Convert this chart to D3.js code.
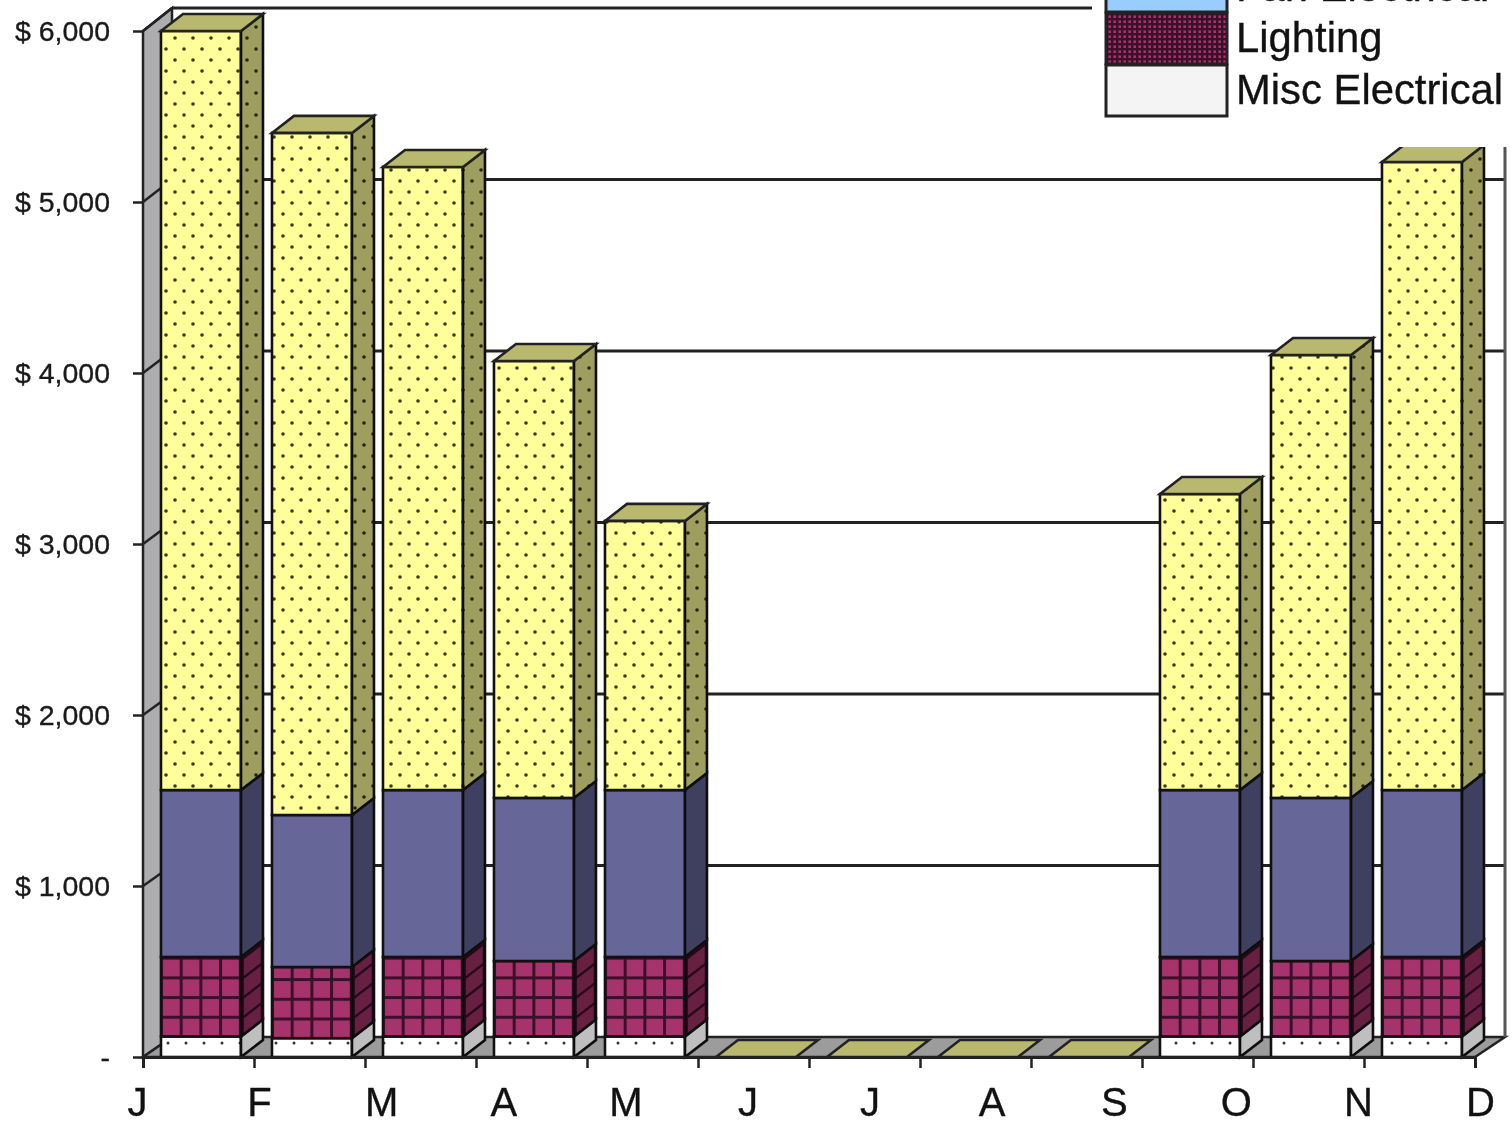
<!DOCTYPE html>
<html>
<head>
<meta charset="utf-8">
<script src="https://cdn.jsdelivr.net/npm/d3@7"></script>
<style>
  html, body { margin: 0; padding: 0; background: #fff; overflow: hidden; }
  svg { display: block; filter: blur(0.7px); }
  text { font-family: "Liberation Sans", Arial, sans-serif; stroke: #1a1a1a; stroke-width: 0.35px; }
</style>
</head>
<body>
<div id="chart"></div>
<script>
// values, $ per month
const months = ["J", "F", "M", "A", "M", "J", "J", "A", "S", "O", "N", "D"];
const miscElectrical = [120, 110, 120, 120, 120, 0, 0, 0, 0, 120, 120, 120];
const lighting = [465, 416, 465, 441, 465, 0, 0, 0, 0, 465, 441, 465];
const blueSeries = [976, 889, 976, 954, 976, 0, 0, 0, 0, 976, 954, 976];
const yellowSeries = [4439, 3989, 3644, 2555, 1574, 0, 0, 0, 0, 1731, 2590, 3673];
const yTicks = [0, 1000, 2000, 3000, 4000, 5000, 6000];
const legendNames = ["Fan Electrical", "Lighting", "Misc Electrical"];

const width = 1512, height = 1129;
const wallDx = 29;               // depth of the chart box
const barDx = 22, barDy = -17;   // depth of a bar

const svg = d3.select("#chart").append("svg")
  .attr("width", width)
  .attr("height", height);
const defs = svg.append("defs");

const x = d3.scaleBand().domain(d3.range(12))
  .range([143, 1475])
  .paddingInner(31 / 111)
  .paddingOuter(31 / 222)
  .align(0.58);
const xEdge = d3.scaleLinear().domain([0, 12]).range([143, 1475]);
const xLabel = d3.scalePoint().domain(d3.range(12)).range([137, 1480]);
const y = d3.scaleLinear().domain([0, 6000]).range([1057, 31]);
const yBack = d3.scaleLinear().domain([0, 6000]).range([1037, 8]);

// stack the four series, bottom to top
const table = months.map((m, i) => ({
  misc: miscElectrical[i],
  lighting: lighting[i],
  blue: blueSeries[i],
  yellow: yellowSeries[i]
}));
const stacked = d3.stack().keys(["misc", "lighting", "blue", "yellow"])(table);

// fill patterns
const dots = defs.append("pattern").attr("id", "dots")
  .attr("patternUnits", "userSpaceOnUse").attr("width", 18).attr("height", 22);
dots.append("rect").attr("width", 18).attr("height", 22).attr("fill", "#ffff99");
dots.selectAll("circle").data([[4, 5], [13, 16]]).join("circle")
  .attr("cx", d => d[0]).attr("cy", d => d[1]).attr("r", 1.8).attr("fill", "#3a3a08");

const whiteDots = defs.append("pattern").attr("id", "whiteDots")
  .attr("patternUnits", "userSpaceOnUse").attr("width", 18).attr("height", 19);
whiteDots.append("rect").attr("width", 18).attr("height", 19).attr("fill", "#fff");
whiteDots.append("circle").attr("cx", 6).attr("cy", 17).attr("r", 1.5).attr("fill", "#333");

// one grid pattern per bar so the lines start from the bar's own corner
function gridPattern(id, px, py, step, lineW, transform) {
  const p = defs.append("pattern").attr("id", id)
    .attr("patternUnits", "userSpaceOnUse")
    .attr("x", px).attr("y", py)
    .attr("width", step).attr("height", step);
  if (transform) p.attr("patternTransform", transform);
  p.append("rect").attr("width", step).attr("height", step).attr("fill", "#a6336b");
  p.append("rect").attr("width", lineW).attr("height", step).attr("fill", "#3c0f2a");
  p.append("rect").attr("width", step).attr("height", lineW).attr("fill", "#3c0f2a");
}
months.forEach((m, i) => {
  gridPattern(`grid${i}`, x(i) - 1, y(miscElectrical[i]) - 1, 19.7, 3);
  gridPattern(`gridSide${i}`, 0, 0, 19.7, 3, `translate(${x(i) + x.bandwidth()},${y(0)}) skewY(${Math.atan2(barDy, barDx) * 180 / Math.PI})`);
});
gridPattern("gridFine", 1106, 13, 5, 2.4);

// chart box: left wall, floor, back wall lines
const backX0 = xEdge(0) + wallDx, backX1 = xEdge(12) + wallDx + 1;
const box = svg.append("g");
box.append("polygon")
  .attr("points", [[xEdge(0), y(6000)], [backX0, yBack(6000)], [backX0, yBack(0)], [xEdge(0), y(0)]].join(" "))
  .attr("fill", "#adadb0").attr("stroke", "#222").attr("stroke-width", 2.5);
box.append("polygon")
  .attr("points", [[xEdge(0), y(0)], [backX0, yBack(0)], [backX1, yBack(0)], [xEdge(12), y(0)]].join(" "))
  .attr("fill", "#9c9c9c").attr("stroke", "#222").attr("stroke-width", 2.5);

box.selectAll("line.grid").data(yTicks.slice(1)).join("line")
  .attr("class", "grid")
  .attr("x1", backX0).attr("x2", backX1)
  .attr("y1", d => yBack(d)).attr("y2", d => yBack(d))
  .attr("stroke", "#222").attr("stroke-width", 2.8);
box.selectAll("line.wallTick").data(yTicks.slice(1)).join("line")
  .attr("class", "wallTick")
  .attr("x1", xEdge(0)).attr("x2", backX0)
  .attr("y1", d => y(d)).attr("y2", d => yBack(d))
  .attr("stroke", "#222").attr("stroke-width", 2.5);
box.append("line")
  .attr("x1", backX1).attr("x2", backX1)
  .attr("y1", yBack(6000)).attr("y2", yBack(0))
  .attr("stroke", "#555").attr("stroke-width", 3);

// bars
const fills = {
  misc: () => "url(#whiteDots)",
  lighting: i => `url(#grid${i})`,
  blue: () => "#666699",
  yellow: () => "url(#dots)"
};
const sideFills = {
  misc: () => "#fff",
  lighting: i => `url(#gridSide${i})`,
  blue: () => "#666699",
  yellow: () => "url(#dots)"
};

const sidePoints = (d, i) => {
  const r = x(i) + x.bandwidth();
  return [[r, y(d[1])], [r + barDx, y(d[1]) + barDy], [r + barDx, y(d[0]) + barDy], [r, y(d[0])]].join(" ");
};

const barLayer = svg.append("g");
stacked.forEach(layer => {
  const g = barLayer.append("g").attr("class", layer.key);
  const live = Array.from(layer, (d, i) => ({ d, i })).filter(e => e.d[1] > e.d[0]);
  g.selectAll("rect").data(live).join("rect")
    .attr("x", e => x(e.i))
    .attr("y", e => y(e.d[1]))
    .attr("width", x.bandwidth())
    .attr("height", e => y(e.d[0]) - y(e.d[1]))
    .attr("fill", e => fills[layer.key](e.i))
    .attr("stroke", "#111").attr("stroke-width", 2.6);
  g.selectAll("polygon.side").data(live).join("polygon")
    .attr("class", "side")
    .attr("points", e => sidePoints(e.d, e.i))
    .attr("fill", e => sideFills[layer.key](e.i))
    .attr("stroke", "#111").attr("stroke-width", 2.6);
  // darken the side faces
  g.selectAll("polygon.shade").data(live).join("polygon")
    .attr("class", "shade")
    .attr("points", e => sidePoints(e.d, e.i))
    .attr("fill", "#000").attr("opacity", layer.key === "misc" ? 0.25 : 0.38);
});

// top faces, also for the empty months
const tops = stacked[stacked.length - 1];
barLayer.append("g").selectAll("polygon").data(Array.from(tops, (d, i) => ({ d, i }))).join("polygon")
  .attr("points", e => {
    const l = x(e.i), r = l + x.bandwidth(), t = y(e.d[1]);
    return [[l, t], [l + barDx, t + barDy], [r + barDx, t + barDy], [r, t]].join(" ");
  })
  .attr("fill", "#b8b86e")
  .attr("stroke", "#222").attr("stroke-width", 2.6);

// axes
const yAxis = svg.append("g")
  .attr("transform", `translate(${xEdge(0)},0)`)
  .call(d3.axisLeft(y).tickValues(yTicks).tickSize(10).tickPadding(23)
    .tickFormat(d => d === 0 ? "-" : "$ " + d3.format(",")(d)));
yAxis.select(".domain").remove();
yAxis.selectAll("line").attr("stroke", "#222").attr("stroke-width", 2.5);
yAxis.selectAll("text").attr("font-size", 28.5).attr("fill", "#1a1a1a")
  .attr("font-family", "Liberation Sans");

const xAxis = svg.append("g")
  .attr("transform", `translate(0,${y(0)})`)
  .call(d3.axisBottom(xEdge).tickValues(d3.range(13)).tickSize(11).tickFormat(""));
xAxis.select(".domain").attr("stroke", "#222").attr("stroke-width", 3);
xAxis.selectAll("line").attr("stroke", "#222").attr("stroke-width", 2.5);

const xLabels = svg.append("g")
  .attr("transform", `translate(0,${y(0)})`)
  .call(d3.axisBottom(xLabel).tickSize(0).tickPadding(31).tickFormat(i => months[i]));
xLabels.select(".domain").remove();
xLabels.selectAll("text").attr("font-size", 40).attr("fill", "#111")
  .attr("font-family", "Liberation Sans");

// legend sits on a white block over the chart, cut by the top of the picture
const legendFills = ["#99ccff", "url(#gridFine)", "#f4f4f4"];
const legendTop = [-38, 13, 65];
const legend = svg.append("g");
legend.append("rect")
  .attr("x", 1092).attr("y", 0).attr("width", 420).attr("height", 147)
  .attr("fill", "#fff");
legend.selectAll("rect.swatch").data(legendNames).join("rect")
  .attr("class", "swatch")
  .attr("x", 1106).attr("width", 121)
  .attr("y", (d, i) => legendTop[i]).attr("height", (d, i) => i === 0 ? 50 : 51)
  .attr("fill", (d, i) => legendFills[i])
  .attr("stroke", "#222").attr("stroke-width", 3);
legend.selectAll("text").data(legendNames).join("text")
  .attr("x", 1236)
  .attr("y", (d, i) => legendTop[i] + 39)
  .attr("font-size", 41.8)
  .attr("fill", "#111")
  .text(d => d);
</script>
</body>
</html>
